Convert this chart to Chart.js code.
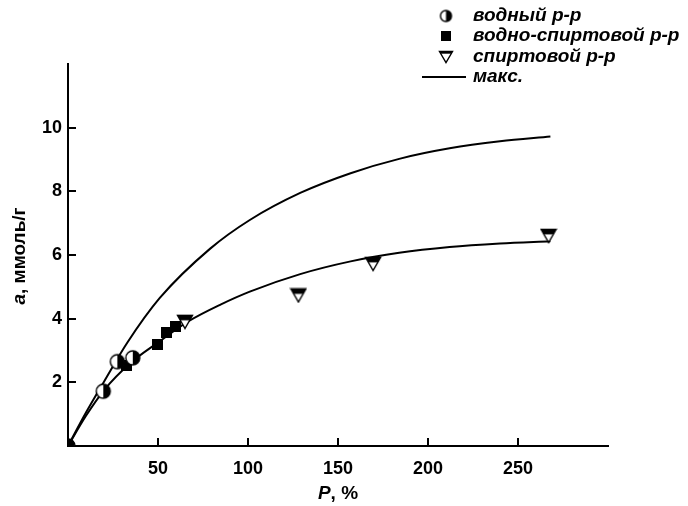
<!DOCTYPE html>
<html>
<head>
<meta charset="utf-8">
<script src="https://cdn.jsdelivr.net/npm/chart.js@4.4.0/dist/chart.umd.min.js"></script>
<style>
  html, body { margin: 0; padding: 0; background: #fff; }
</style>
</head>
<body>
<canvas id="adsChart" width="688" height="506"></canvas>
<script>
// точки
const vodnyP = [0, 19.6, 27.4, 36];
const vodnyA = [0, 1.72, 2.65, 2.77];
const spirtVodP = [32.6, 49.8, 54.8, 59.8];
const spirtVodA = [2.54, 3.2, 3.55, 3.74];
const spirtP = [65, 128, 169.5, 267];
const spirtA = [3.9, 4.73, 5.72, 6.6];

// кривые (прочитаны по картинке)
const maxCurveP = [0, 10, 20, 33, 51, 79, 101, 129, 157, 184, 212, 240, 268];
const maxCurveA = [0, 1.05, 2.02, 3.25, 4.65, 6.2, 7.1, 7.95, 8.57, 9.02, 9.35, 9.57, 9.72];
const fitCurveP = [0, 10, 20, 35, 50, 67, 85, 101, 129, 157, 184, 212, 240, 268];
const fitCurveA = [0, 0.95, 1.75, 2.62, 3.25, 3.92, 4.45, 4.85, 5.4, 5.8, 6.07, 6.25, 6.36, 6.43];

const xTickValues = [50, 100, 150, 200, 250];
const yTickValues = [2, 4, 6, 8, 10];

const legendLabels = ['водный р-р', 'водно-спиртовой р-р', 'спиртовой р-р', 'макс.'];

const FONT = '"Liberation Sans", Arial, sans-serif';

function pts(xs, ys) {
    return xs.map((x, i) => ({ x: x, y: ys[i] }));
}

function halfCircle(r) {
    const c = document.createElement('canvas');
    const s = 2 * r + 4;
    c.width = c.height = s;
    const g = c.getContext('2d');
    const m = s / 2;
    g.fillStyle = '#fff';
    g.beginPath(); g.arc(m, m, r, 0, 2 * Math.PI); g.fill();
    g.fillStyle = '#000';
    g.beginPath(); g.arc(m, m, r, -Math.PI / 2, Math.PI / 2); g.closePath(); g.fill();
    g.lineWidth = 1.4;
    g.strokeStyle = '#000';
    g.beginPath(); g.arc(m, m, r, 0, 2 * Math.PI); g.stroke();
    return c;
}

function square(a) {
    const c = document.createElement('canvas');
    c.width = c.height = a;
    const g = c.getContext('2d');
    g.fillStyle = '#000';
    g.fillRect(0, 0, a, a);
    return c;
}

function halfTriangle(w, h, part) {
    const c = document.createElement('canvas');
    c.width = w + 3; c.height = h + 3;
    const g = c.getContext('2d');
    const tri = () => {
        g.beginPath();
        g.moveTo(1.5, 1.5);
        g.lineTo(w + 1.5, 1.5);
        g.lineTo(w / 2 + 1.5, h + 1.5);
        g.closePath();
    };
    tri(); g.fillStyle = '#fff'; g.fill();
    g.save(); tri(); g.clip();
    g.fillStyle = '#000'; g.fillRect(0, 0, w + 3, h * part + 1.5);
    g.restore();
    tri(); g.lineWidth = 1.4; g.strokeStyle = '#000'; g.stroke();
    return c;
}

const circleImg = halfCircle(7);
const squareImg = square(11);
const triImg = halfTriangle(15, 13, 0.38);
const legCircle = halfCircle(5.5);
const legSquare = square(10);
const legTri = halfTriangle(13, 11, 0.2);

// засечки внутрь, подписи осей и легенда
const decorPlugin = {
    id: 'decor',
    afterDraw(chart) {
        const ctx = chart.ctx;
        const x = chart.scales.x, y = chart.scales.y;
        const area = chart.chartArea;
        ctx.save();
        ctx.strokeStyle = '#000';
        ctx.lineWidth = 2;
        xTickValues.forEach(v => {
            const px = Math.round(x.getPixelForValue(v));
            ctx.beginPath(); ctx.moveTo(px, area.bottom); ctx.lineTo(px, area.bottom - 8); ctx.stroke();
        });
        yTickValues.forEach(v => {
            const py = Math.round(y.getPixelForValue(v));
            ctx.beginPath(); ctx.moveTo(area.left, py); ctx.lineTo(area.left + 8, py); ctx.stroke();
        });

        ctx.fillStyle = '#000';
        ctx.textBaseline = 'middle';
        // ось X
        const fi = 'italic bold 19px ' + FONT, fb = 'bold 19px ' + FONT;
        ctx.font = fi; const w1 = ctx.measureText('P').width;
        ctx.font = fb; const w2 = ctx.measureText(', %').width;
        let sx = 338 - (w1 + w2) / 2;
        ctx.textAlign = 'left';
        ctx.font = fi; ctx.fillText('P', sx, 494);
        ctx.font = fb; ctx.fillText(', %', sx + w1, 494);
        // ось Y
        ctx.save();
        ctx.translate(20, 256);
        ctx.rotate(-Math.PI / 2);
        ctx.font = fi; const w3 = ctx.measureText('a').width;
        ctx.font = fb; const w4 = ctx.measureText(', ммоль/г').width;
        sx = -(w3 + w4) / 2;
        ctx.font = fi; ctx.fillText('a', sx, 0);
        ctx.font = fb; ctx.fillText(', ммоль/г', sx + w3, 0);
        ctx.restore();

        // легенда
        const rows = [16, 36, 57, 77];
        const imgs = [legCircle, legSquare, legTri];
        imgs.forEach((im, i) => {
            ctx.drawImage(im, 446 - im.width / 2, rows[i] - im.height / 2);
        });
        ctx.lineWidth = 2;
        ctx.beginPath(); ctx.moveTo(422, rows[3]); ctx.lineTo(466, rows[3]); ctx.stroke();
        ctx.font = 'italic bold 19px ' + FONT;
        legendLabels.forEach((t, i) => ctx.fillText(t, 473, rows[i]));
        ctx.restore();
    }
};

const ctx = document.getElementById('adsChart').getContext('2d');
const adsChart = new Chart(ctx, {
    type: 'scatter',
    data: {
        datasets: [
            {
                label: legendLabels[0],
                data: pts(vodnyP, vodnyA),
                pointStyle: circleImg,
                clip: 0,
                order: 0
            },
            {
                label: legendLabels[1],
                data: pts(spirtVodP, spirtVodA),
                pointStyle: squareImg,
                order: 0
            },
            {
                label: legendLabels[2],
                data: pts(spirtP, spirtA),
                pointStyle: triImg,
                order: 0
            },
            {
                label: legendLabels[3],
                type: 'line',
                data: pts(maxCurveP, maxCurveA),
                borderColor: '#000',
                borderWidth: 2,
                pointRadius: 0,
                cubicInterpolationMode: 'monotone',
                fill: false,
                order: 1
            },
            {
                label: 'fit',
                type: 'line',
                data: pts(fitCurveP, fitCurveA),
                borderColor: '#000',
                borderWidth: 2,
                pointRadius: 0,
                cubicInterpolationMode: 'monotone',
                fill: false,
                order: 1
            }
        ]
    },
    options: {
        responsive: false,
        animation: false,
        layout: { padding: { top: 64, right: 80, left: 0, bottom: 0 } },
        plugins: {
            legend: { display: false },
            tooltip: { enabled: false }
        },
        scales: {
            x: {
                type: 'linear',
                min: 0,
                max: 300,
                afterBuildTicks: (scale) => { scale.ticks = xTickValues.map(v => ({ value: v })); },
                afterFit: (scale) => { scale.height = 60; },
                border: { display: true, color: '#000', width: 2 },
                grid: { display: false, drawTicks: false },
                ticks: {
                    padding: 12,
                    color: '#000',
                    font: { family: FONT, size: 18, weight: 'bold' },
                    maxRotation: 0
                }
            },
            y: {
                type: 'linear',
                min: 0,
                max: 12,
                afterBuildTicks: (scale) => { scale.ticks = yTickValues.map(v => ({ value: v })); },
                afterFit: (scale) => { scale.width = 68; },
                border: { display: true, color: '#000', width: 2 },
                grid: { display: false, drawTicks: false },
                ticks: {
                    padding: 6,
                    color: '#000',
                    font: { family: FONT, size: 18, weight: 'bold' }
                }
            }
        }
    },
    plugins: [decorPlugin]
});
</script>
</body>
</html>
